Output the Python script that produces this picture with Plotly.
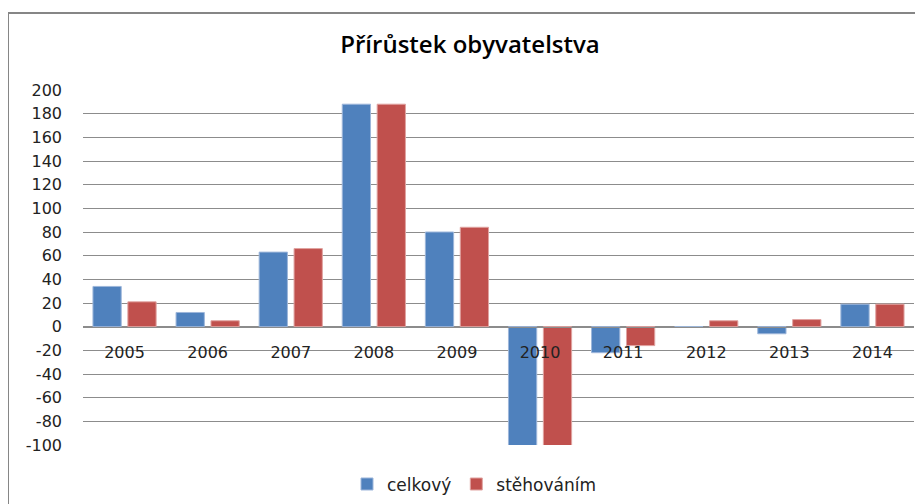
import plotly.graph_objects as go

years = ["2005", "2006", "2007", "2008", "2009", "2010", "2011", "2012", "2013", "2014"]
celkovy = [34, 12, 63, 188, 80, -101, -22, 0, -6, 19]
stehovanim = [21, 5, 66, 188, 84, -101, -16, 5, 6, 19]
series_names = ["celkový", "stěhováním"]
title_text = "Přírůstek obyvatelstva"
y_tick_values = [-100, -80, -60, -40, -20, 0, 20, 40, 60, 80, 100, 120, 140, 160, 180, 200]
y_tick_labels = [str(v) for v in y_tick_values]  # plain hyphen minus as in the source

W, H = 923, 504
OFF = 8  # page offset of the figure inside the browser window
L, T = 83 - OFF, 90 - OFF
pw, ph = 831, 355.5
R = W - L - pw
B = H - T - ph

def px_x(p):
    return (p - OFF - L) / pw

def px_y(p):
    return (H - B - (p - OFF)) / ph

font = "DejaVu Sans"

fig = go.Figure()
fig.add_trace(go.Bar(x=years, y=celkovy, name=series_names[0],
                     marker=dict(color="#4F81BD", line=dict(color="#9DB6DA", width=1))))
fig.add_trace(go.Bar(x=years, y=stehovanim, name=series_names[1],
                     marker=dict(color="#C0504D", line=dict(color="#E0A3A1", width=1))))

fig.update_layout(
    width=W, height=H,
    margin=dict(l=L, r=R, t=T, b=B, autoexpand=False),
    paper_bgcolor="white", plot_bgcolor="white",
    barmode="group", bargap=0.16, bargroupgap=0.19,
    title=dict(text=title_text, x=px_x(470), xref="paper", xanchor="center",
               y=1 - (45 - OFF) / H, yanchor="middle",
               font=dict(family="Open Sans", size=24, color="black", weight=600)),
    legend=dict(orientation="h", x=px_x(474), xanchor="center", y=px_y(485), yanchor="middle",
                font=dict(family=font, size=17, color="#222"), itemwidth=30,
                bgcolor="rgba(0,0,0,0)", traceorder="normal"),
    font=dict(family=font, size=16, color="#222"),
    shapes=[dict(type="rect", xref="paper", yref="paper",
                 x0=px_x(8), x1=px_x(960), y0=px_y(530), y1=px_y(13),
                 line=dict(color="#868686", width=2), fillcolor="rgba(0,0,0,0)", layer="below")],
)

fig.update_xaxes(type="category", anchor="free", position=1/3,
                 showline=True, linecolor="#8c8c8c", linewidth=1,
                 ticks="", ticklabelstandoff=11, showgrid=False,
                 tickfont=dict(family=font, size=16, color="#222"))
fig.update_yaxes(range=[-100, 200], tickvals=y_tick_values, ticktext=y_tick_labels,
                 showgrid=True, gridcolor="#8c8c8c",
                 gridwidth=1, zeroline=False, showline=False, ticks="",
                 ticklabelstandoff=20,
                 tickfont=dict(family=font, size=16, color="#222"))

fig.write_html("out.html")
